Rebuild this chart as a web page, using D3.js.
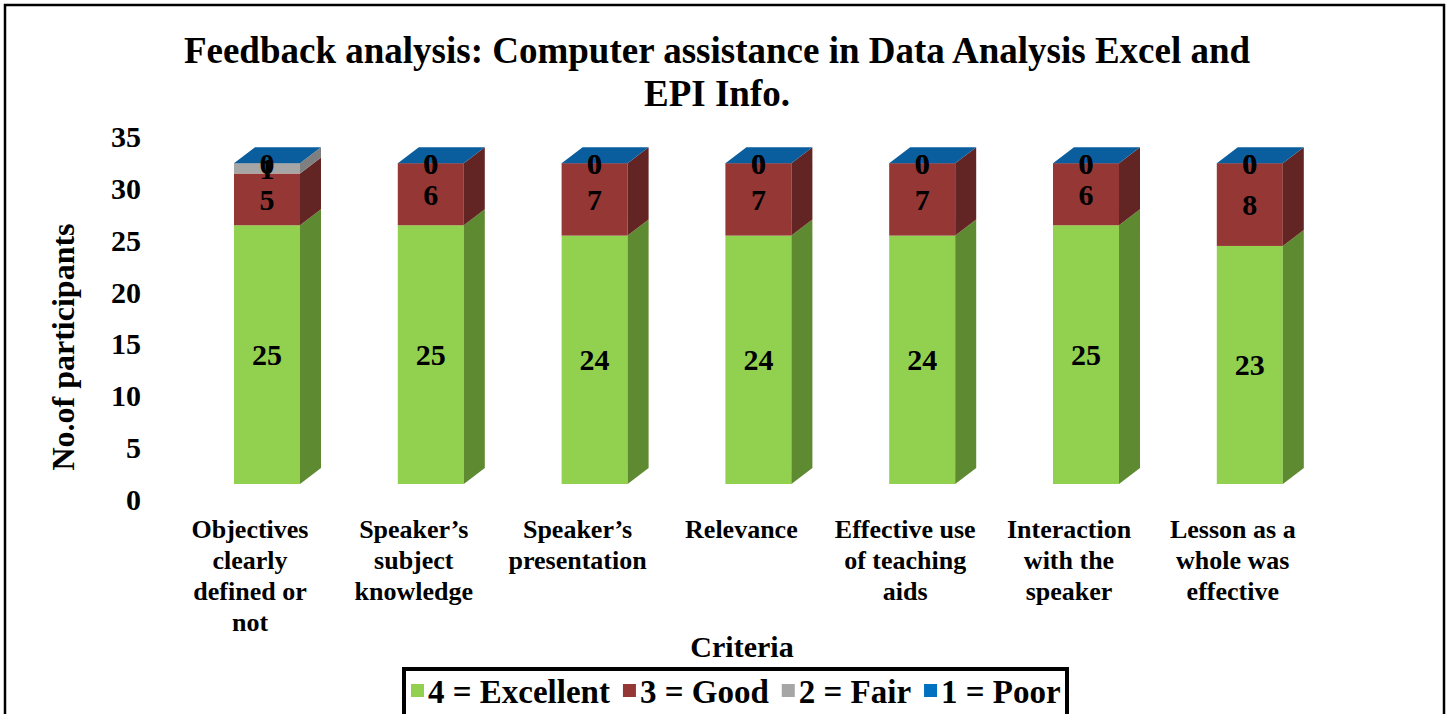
<!DOCTYPE html>
<html>
<head>
<meta charset="utf-8">
<script src="https://cdn.jsdelivr.net/npm/d3@7"></script>
<style>
  body { margin: 0; background: #fff; }
  text { font-family: "Liberation Serif", "Times New Roman", serif; font-weight: bold; fill: #000; }
</style>
</head>
<body>
<svg id="chart" width="1451" height="714"></svg>
<script>
// data
const categories = [
  ["Objectives", "clearly", "defined or", "not"],
  ["Speaker\u2019s", "subject", "knowledge"],
  ["Speaker\u2019s", "presentation"],
  ["Relevance"],
  ["Effective use", "of teaching", "aids"],
  ["Interaction", "with the", "speaker"],
  ["Lesson as a", "whole was", "effective"]
]
const excellent = [25, 25, 24, 24, 24, 25, 23]
const good      = [5, 6, 7, 7, 7, 6, 8]
const fair      = [1, 0, 0, 0, 0, 0, 0]
const poor      = [0, 0, 0, 0, 0, 0, 0]
const seriesNames = ["4 = Excellent", "3 = Good", "2 = Fair", "1 = Poor"]
const yTicks = [0, 5, 10, 15, 20, 25, 30, 35]

const series = [excellent, good, fair, poor]
const frontColors = ["#92D050", "#953735", "#A6A6A6", "#0070C0"]
const sideColors  = ["#5E8B31", "#632523", "#7F7F7F", "#00548F"]
const topColors   = ["#A8DA70", "#A64B49", "#B8B8B8", "#0A5E9E"]

const svg = d3.select("#chart")
const keys = categories.map((c, i) => "c" + i)

// outer frame
svg.append("rect").attr("x", 5).attr("y", 5).attr("width", 1439).attr("height", 740)
   .attr("fill", "none").attr("stroke", "#000").attr("stroke-width", 2.5)

// scales
let xScale = d3.scaleBand().domain(keys).range([136.2, 1380.6]).padding(0.597)
let yScale = d3.scaleLinear().domain([0, 35]).range([484, 484 - 35 * 10.35])
const dx = 21, dy = -16

// title
svg.append("text").attr("x", 717).attr("y", 63).attr("text-anchor", "middle")
   .style("font-size", "37px").text("Feedback analysis: Computer assistance in Data Analysis Excel and")
svg.append("text").attr("x", 717).attr("y", 106).attr("text-anchor", "middle")
   .style("font-size", "37px").text("EPI Info.")

// y axis (labels only)
let y_axis = d3.axisLeft(yScale).tickValues(yTicks).tickSize(0).tickPadding(9)
let yg = svg.append("g").attr("transform", "translate(150,15)").call(y_axis)
yg.select(".domain").remove()
yg.selectAll("text").style("font-size", "30px").style("font-family", null)
  .attr("fill", "#000").attr("dy", "0.34em")

svg.append("text").attr("transform", "translate(74,347) rotate(-90)")
   .attr("text-anchor", "middle").style("font-size", "32px").text("No.of participants")

// stacked 3D bars
const stack = keys.map((k, i) => {
  let base = 0
  return series.map((s, j) => {
    const seg = { key: k, idx: i, s: j, v: s[i], y0: base, y1: base + s[i] }
    base += s[i]
    return seg
  })
})

const bars = svg.append("g")
stack.forEach(segs => {
  const g = bars.append("g")
  const x0 = xScale(segs[0].key), w = xScale.bandwidth()
  segs.forEach(d => {
    if (d.v <= 0) return
    const yt = yScale(d.y1), yb = yScale(d.y0)
    g.append("rect").attr("x", x0).attr("y", yt).attr("width", w).attr("height", yb - yt)
     .attr("fill", frontColors[d.s])
    g.append("path")
     .attr("d", `M${x0 + w},${yb} L${x0 + w + dx},${yb + dy} L${x0 + w + dx},${yt + dy} L${x0 + w},${yt} Z`)
     .attr("fill", sideColors[d.s])
  })
  // top face takes the colour of the last (zero-height) series
  const top = segs[segs.length - 1]
  const yt = yScale(top.y1)
  g.append("path")
   .attr("d", `M${x0},${yt} L${x0 + dx},${yt + dy} L${x0 + w + dx},${yt + dy} L${x0 + w},${yt} Z`)
   .attr("fill", topColors[top.s])
})

// value labels
stack.forEach(segs => {
  segs.forEach(d => {
    svg.append("text")
       .attr("x", xScale(d.key) + xScale.bandwidth() / 2)
       .attr("y", yScale((d.y0 + d.y1) / 2))
       .attr("dy", "0.35em").attr("text-anchor", "middle")
       .style("font-size", "30px").text(d.v)
  })
})

// category labels
categories.forEach((lines, i) => {
  const cx = xScale(keys[i]) + xScale.bandwidth() / 2 - 17
  const t = svg.append("text").attr("text-anchor", "middle").style("font-size", "26px")
  lines.forEach((ln, k) => {
    t.append("tspan").attr("x", cx).attr("y", 538 + k * 31).text(ln)
  })
})

svg.append("text").attr("x", 742).attr("y", 657).attr("text-anchor", "middle")
   .style("font-size", "30px").text("Criteria")

// legend
svg.append("rect").attr("x", 404).attr("y", 669).attr("width", 663).attr("height", 60)
   .attr("fill", "#fff").attr("stroke", "#000").attr("stroke-width", 4)
let lx = 411
seriesNames.forEach((name, i) => {
  svg.append("rect").attr("x", lx).attr("y", 684).attr("width", 13).attr("height", 13)
     .attr("fill", frontColors[i])
  const t = svg.append("text").attr("x", lx + 17).attr("y", 703)
     .style("font-size", "33px").text(name)
  lx = lx + 17 + t.node().getComputedTextLength() + 13
})
</script>
</body>
</html>
